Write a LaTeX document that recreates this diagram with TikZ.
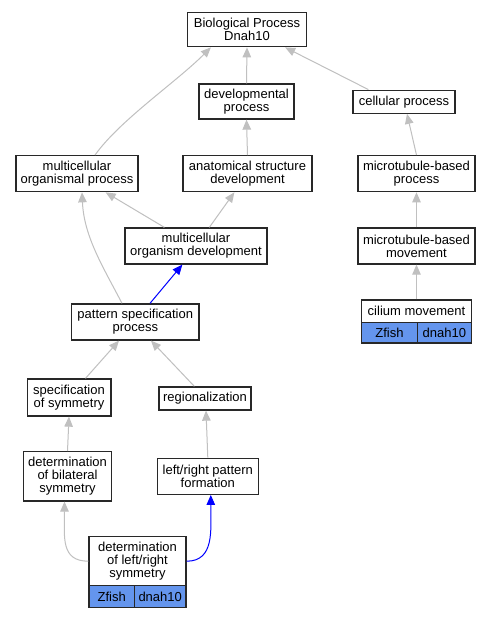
\documentclass[tikz,border=0pt]{standalone}
\usepackage{fontspec}
\setmainfont{Liberation Sans}
\usetikzlibrary{arrows.meta,calc}
\definecolor{cfblue}{RGB}{100,149,237}
\definecolor{edgegray}{RGB}{192,192,192}
\definecolor{boxline}{RGB}{40,40,40}
\begin{document}
\begin{tikzpicture}[x=1pt,y=-1pt,
  box/.style={draw=boxline, line width=1.3pt, fill=white, inner sep=0pt, align=center,
    font=\fontsize{13}{12.8}\selectfont},
  gene/.style={box, fill=cfblue},
  gedge/.style={draw=edgegray, line width=1pt, -{Triangle[length=10pt,width=8.5pt]}},
  bedge/.style={draw=blue, line width=1pt, -{Triangle[length=10pt,width=8.5pt]}}]
\useasboundingbox (0,0) rectangle (491,619);
\fill[white] (0,0) rectangle (491,619);
% nodes
\node[box, minimum width=119pt, minimum height=34.5pt] (bp) at (247,29.5) {Biological Process\\Dnah10};
\node[box, minimum width=95pt, minimum height=35pt] (dev) at (246.5,101.5) {developmental\\process};
\node[box, minimum width=102pt, minimum height=23pt] (cell) at (404,101.7) {cellular process};
\node[box, minimum width=122pt, minimum height=36pt] (mop) at (77,173.7) {multicellular\\organismal process};
\node[box, minimum width=129pt, minimum height=36pt] (asd) at (247.5,173.7) {anatomical structure\\development};
\node[box, minimum width=117pt, minimum height=36pt] (mtp) at (416.5,173.7) {microtubule-based\\process};
\node[box, minimum width=142pt, minimum height=36pt] (mod) at (196,246) {multicellular\\organism development};
\node[box, minimum width=117pt, minimum height=36pt] (mtm) at (416.5,246) {microtubule-based\\movement};
\node[box, minimum width=110pt, minimum height=22.5pt] (cil) at (416.5,311.3) {cilium movement};
\node[gene, minimum width=55.8pt, minimum height=20.5pt] (cilA) at (389.4,332.8) {Zfish};
\node[gene, minimum width=54.2pt, minimum height=20.5pt] (cilB) at (444.4,332.8) {dnah10};
\node[box, minimum width=127.3pt, minimum height=36pt] (psp) at (135.3,322) {pattern specification\\process};
\node[box, minimum width=83.7pt, minimum height=37pt] (sos) at (69,397.5) {specification\\of symmetry};
\node[box, minimum width=92pt, minimum height=23pt] (reg) at (205,398.5) {regionalization};
\node[box, minimum width=88.3pt, minimum height=49.3pt] (dbs) at (67.5,476.3) {determination\\of bilateral\\symmetry};
\node[box, minimum width=101pt, minimum height=36pt] (lrpf) at (207.8,476.3) {left/right pattern\\formation};
\node[box, minimum width=97pt, minimum height=49pt] (dlr) at (137.5,561.2) {determination\\of left/right\\symmetry};
\node[gene, minimum width=45.3pt, minimum height=22pt] (dlrA) at (111.7,596.7) {Zfish};
\node[gene, minimum width=51.7pt, minimum height=22pt] (dlrB) at (160.2,596.7) {dnah10};
% edges
\draw[gedge] (dev.north) -- (bp.south);
\draw[gedge] ($(cell.north west)+(16,0)$) -- ($(bp.south east)+(-22,0)$);
\draw[gedge] ($(mop.north)+(18,0)$) .. controls +(25,-35) and +(-35,35) .. ($(bp.south west)+(24,0)$);
\draw[gedge] (asd.north) -- (dev.south);
\draw[gedge] (mtp.north) -- ($(cell.south)+(3,0)$);
\draw[gedge] ($(mod.north west)+(40,0)$) -- ($(mop.south east)+(-33,0)$);
\draw[gedge] ($(mod.north west)+(85,0)$) -- ($(asd.south west)+(52,0)$);
\draw[gedge] ($(psp.north west)+(51,0)$) .. controls +(-18,-35) and +(2,45) .. ($(mop.south)+(5,0)$);
\draw[bedge] ($(psp.north west)+(79,0)$) -- ($(mod.south west)+(58,0)$);
\draw[gedge] (mtm.north) -- (mtp.south);
\draw[gedge] (cil.north) -- (mtm.south);
\draw[gedge] ($(sos.north west)+(59,0)$) -- ($(psp.south west)+(48,0)$);
\draw[gedge] ($(reg.north west)+(36,0)$) -- ($(psp.south west)+(80,0)$);
\draw[gedge] (dbs.north) -- (sos.south);
\draw[gedge] (lrpf.north) -- ($(reg.south)+(1,0)$);
\draw[gedge] (dlr.west) .. controls +(-28,0) and +(0,35) .. ($(dbs.south)+(-3,0)$);
\draw[bedge] (dlr.east) .. controls +(28,0) and +(0,35) .. ($(lrpf.south)+(3,0)$);
\end{tikzpicture}
\end{document}
